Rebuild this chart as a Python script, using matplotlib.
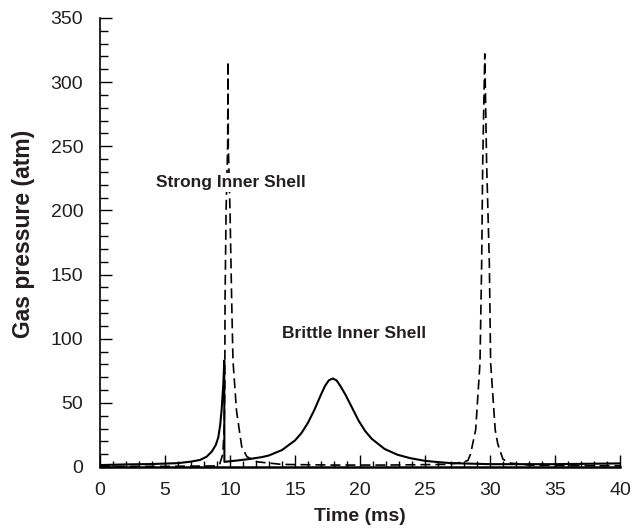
import numpy as np
import matplotlib
matplotlib.use("Agg")
import matplotlib.pyplot as plt
from matplotlib.ticker import MultipleLocator

plt.rcParams['font.family'] = ['Liberation Sans', 'DejaVu Sans']

# brittle inner shell (solid)
t_brittle = [0, 2, 4, 6, 7, 7.7, 8.2, 8.6, 8.9, 9.1, 9.25, 9.36, 9.49, 9.56,
             9.57, 10.5, 11.5, 12.5, 13.0, 14.0, 15.0, 15.5, 16.0, 16.5,
             17.0, 17.3, 17.6, 17.9, 18.2, 18.5, 18.9, 19.4, 19.9, 20.4,
             20.9, 21.9, 22.9, 23.9, 25.0, 26.0, 27.0, 30.0, 35.0, 40.0]
p_brittle = [1.5, 2, 2.3, 3, 4.2, 5.5, 8, 12, 17, 23, 33, 45, 65, 83,
             4, 5, 6.2, 7.8, 9.0, 13.2, 20.7, 26.5, 34.5, 44.7,
             56.4, 63, 67.5, 69, 67.5, 63, 56, 46, 36, 28,
             22, 14, 9.5, 6.8, 4.8, 3.8, 3, 2.2, 2.2, 2.8]

# strong inner shell (dashed)
t_strong = [0, 5, 8.8, 9.2, 9.45, 9.55, 9.6, 9.62, 9.7, 9.82, 9.85,
            9.87, 10.0, 10.13, 10.23, 10.5, 10.9, 11.3, 12.1, 14, 18,
            22, 26.5, 27.5, 28.3, 28.5, 28.9, 29.23, 29.36, 29.44, 29.6,
            29.74, 29.95, 30.05, 30.4, 30.6, 31.0, 31.6, 33, 36, 40]
p_strong = [0.5, 0.5, 0.8, 2, 10, 30, 60, 130, 200, 250, 316,
            250, 200, 130, 83, 44, 16, 8, 4, 2, 1.5,
            1.5, 2, 3, 5, 10, 29, 81, 159, 237, 322,
            237, 159, 81, 29, 18, 6, 3, 1.5, 1, 1]

labels = ["Strong Inner Shell", "Brittle Inner Shell"]
label_xy = [(4.3, 222), (14.0, 104)]

fig = plt.figure(figsize=(6.32, 5.32), dpi=100)
ax = fig.add_axes([0.1582, 0.1222, 0.8228, 0.8440])

ax.plot(t_brittle, p_brittle, color='black', lw=1.5)
ax.plot(t_strong, p_strong, color='black', lw=1.2, linestyle=(0, (6, 3)))

for s, (x, y) in zip(labels, label_xy):
    ax.text(x, y, s, fontsize=12.5, fontweight='bold', color='#231f20',
            ha='left', va='center', zorder=5,
            bbox=dict(facecolor='white', edgecolor='none', pad=1.5))

ax.set_xlim(0, 40)
ax.set_ylim(0, 350)
ax.xaxis.set_major_locator(MultipleLocator(5))
ax.xaxis.set_minor_locator(MultipleLocator(1))
ax.yaxis.set_major_locator(MultipleLocator(50))
ax.yaxis.set_minor_locator(MultipleLocator(10))

for side in ['top', 'right']:
    ax.spines[side].set_visible(False)
ax.spines['left'].set_linewidth(1.2)
ax.spines['bottom'].set_linewidth(1.8)

ax.tick_params(axis='both', which='major', direction='in', length=8.5,
               width=1.0, labelsize=14, labelcolor='#231f20')
ax.tick_params(axis='x', which='major', pad=11)
ax.tick_params(axis='y', which='major', pad=12)
ax.tick_params(axis='x', which='minor', direction='in', length=4.5, width=1.0)
ax.tick_params(axis='y', which='minor', direction='in', length=5.5, width=1.0)

ax.set_xlabel("Time (ms)", fontsize=14, fontweight='bold', color='#231f20')
ax.set_ylabel("Gas pressure (atm)", fontsize=16.5, fontweight='bold',
              color='#231f20')
ax.xaxis.set_label_coords(0.5, -0.111)
ax.xaxis.label.set_va('center')
ax.yaxis.set_label_coords(-0.148, 0.519)
ax.yaxis.label.set_va('center')

fig.savefig("out.png", dpi=100)
